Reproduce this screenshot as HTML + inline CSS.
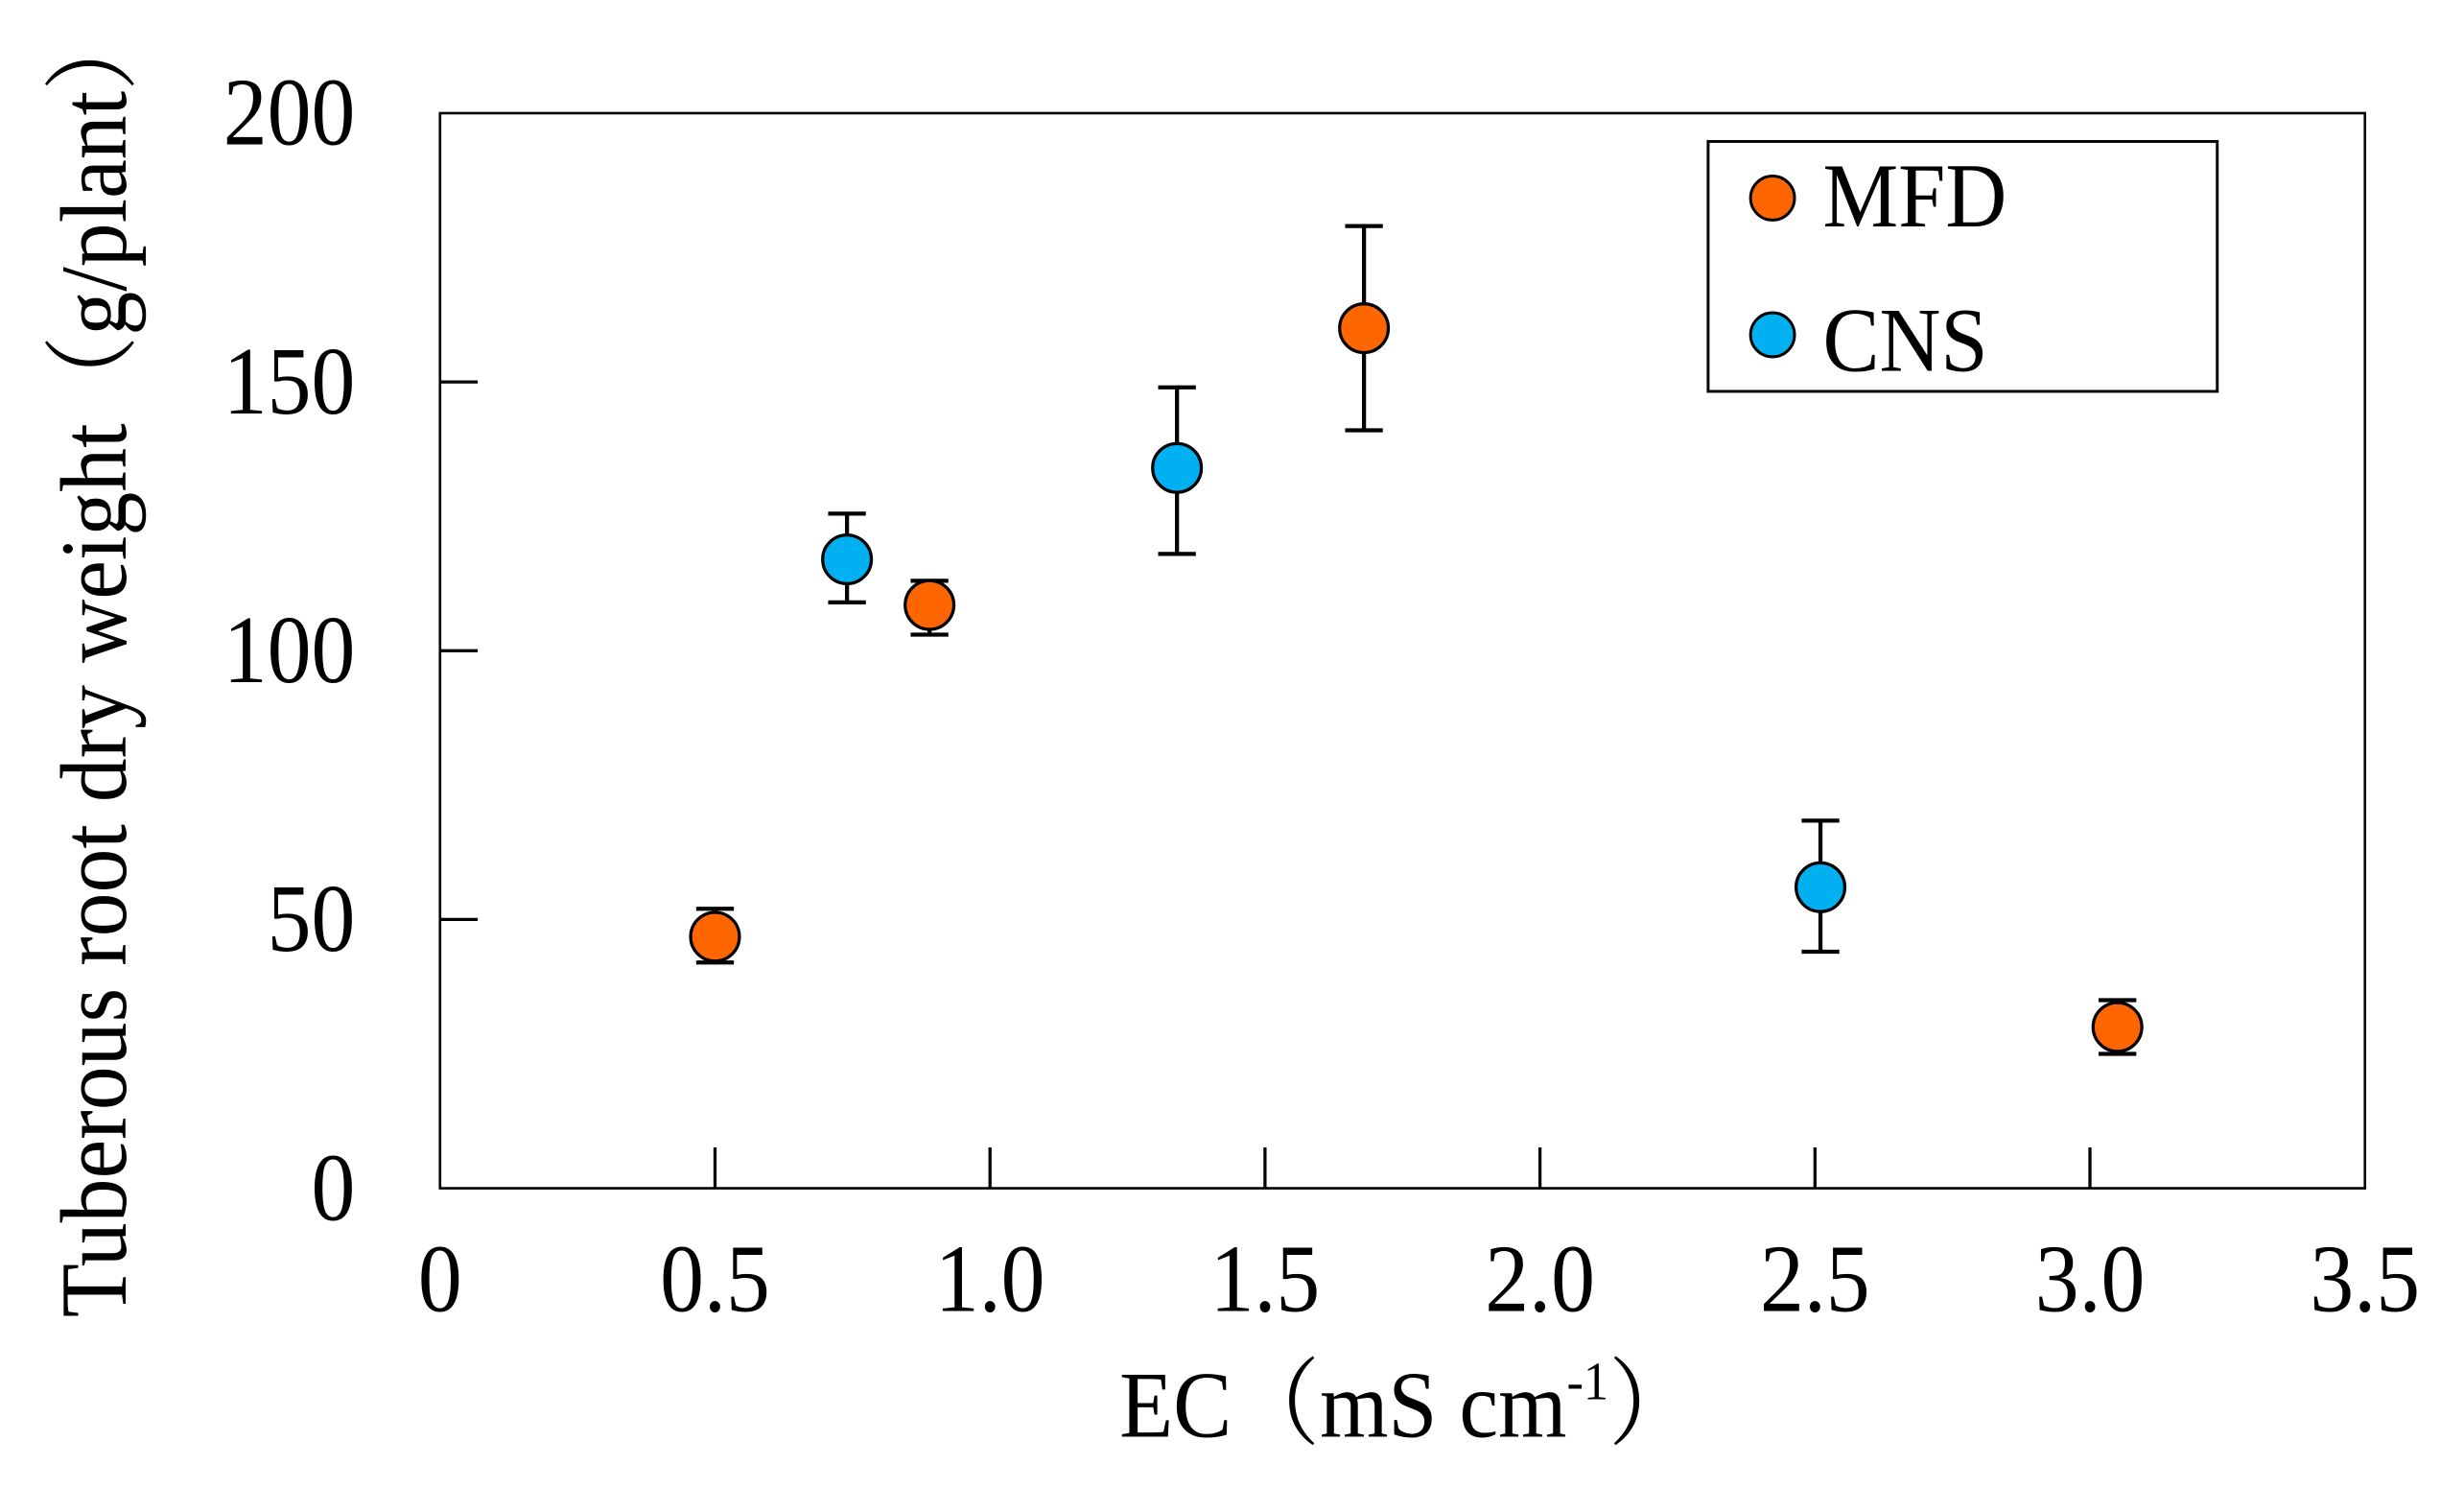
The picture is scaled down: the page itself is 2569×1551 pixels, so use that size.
<!DOCTYPE html>
<html><head><meta charset="utf-8"><style>html,body{margin:0;padding:0;background:#fff}svg{display:block}</style></head>
<body>
<svg id="chart" width="2569" height="1551" viewBox="0 0 1568 946.7" xmlns="http://www.w3.org/2000/svg" font-family="'Liberation Serif','Noto Serif CJK SC',serif">
<rect x="280" y="72" width="1225" height="684" fill="none" stroke="#000" stroke-width="1.6"/>
<g id="axes"></g>
<g id="marks"></g>
<text x="0" y="0" font-size="56" text-anchor="middle" transform="translate(80 420) rotate(-90) scale(1 1.08)">Tuberous root dry weight<tspan font-family="'Noto Serif CJK SC',serif">（</tspan>g/plant<tspan font-family="'Noto Serif CJK SC',serif">）</tspan></text>
<text x="0" y="0" font-size="56" text-anchor="middle" transform="translate(896 914) scale(1 1.08)">EC<tspan font-family="'Noto Serif CJK SC',serif">（</tspan>mS cm<tspan font-size="32" dy="-22">-1</tspan><tspan dy="22" font-family="'Noto Serif CJK SC',serif">）</tspan></text>
<g>
<rect x="1087" y="90" width="324" height="159" fill="#fff" stroke="#000" stroke-width="1.8"/>
<circle cx="1128" cy="126" r="14" fill="#FF6600" stroke="#000" stroke-width="1.8"/>
<text x="0" y="0" font-size="54" transform="translate(1160 144) scale(1 1.08)">MFD</text>
<circle cx="1128" cy="213" r="14" fill="#00B0F0" stroke="#000" stroke-width="1.8"/>
<text x="0" y="0" font-size="54" transform="translate(1160 236) scale(1 1.08)">CNS</text>
</g>
</svg>
<script>
const xTicks = [0, 0.5, 1.0, 1.5, 2.0, 2.5, 3.0, 3.5];
const xTickLabels = ["0", "0.5", "1.0", "1.5", "2.0", "2.5", "3.0", "3.5"];
const yTicks = [0, 50, 100, 150, 200];
const yTickLabels = ["0", "50", "100", "150", "200"];
const mfdX = [0.50, 0.89, 1.68, 3.05];
const mfdY = [46.8, 108.5, 160, 30];
const mfdHi = [52, 113, 179, 35];
const mfdLo = [42, 103, 141, 25];
const cnsX = [0.74, 1.34, 2.51];
const cnsY = [117, 134, 56];
const cnsHi = [125.5, 149, 68.4];
const cnsLo = [109, 118, 44];

const NS = "http://www.w3.org/2000/svg";
const X0 = 280, X1 = 1505, Y0 = 756, Y1 = 72;
function sx(v){ return X0 + (v - 0) / 3.5 * (X1 - X0); }
function sy(v){ return Y0 - (v - 0) / 200 * (Y0 - Y1); }
function mk(tag, attrs, parent){
  const e = document.createElementNS(NS, tag);
  for (const k in attrs) e.setAttribute(k, attrs[k]);
  parent.appendChild(e);
  return e;
}
const axes = document.getElementById('axes');
const marks = document.getElementById('marks');
xTicks.forEach((t, i) => {
  if (t > 0 && t < 3.5) {
    const l = mk('line', {x1: sx(t), x2: sx(t), y1: Y0, y2: Y0 - 26, stroke: '#000', 'stroke-width': 2}, axes);
    
    
  }
  const tx = mk('text', {x: 0, y: 0, 'font-size': 56, 'text-anchor': 'middle', transform: 'translate(' + sx(t) + ' 834) scale(1 1.1)'}, axes);
  tx.textContent = xTickLabels[i];
  
  
});
yTicks.forEach((t, i) => {
  if (t > 0 && t < 200) {
    const l = mk('line', {x1: X0, x2: X0 + 24, y1: sy(t), y2: sy(t), stroke: '#000', 'stroke-width': 2}, axes);
    
    
  }
  const tx = mk('text', {x: 0, y: 0, 'font-size': 56, 'text-anchor': 'end', transform: 'translate(226 ' + (sy(t) + 20) + ') scale(1 1.1)'}, axes);
  tx.textContent = yTickLabels[i];
  
  
});
function series(xs, ys, hi, lo, color, name){
  xs.forEach((x, i) => {
    const g = mk('g', {}, marks);
    
    
    const cx = sx(x);
    mk('line', {x1: cx, x2: cx, y1: sy(hi[i]), y2: sy(lo[i]), stroke: '#000', 'stroke-width': 2.6}, g);
    mk('line', {x1: cx - 12, x2: cx + 12, y1: sy(hi[i]), y2: sy(hi[i]), stroke: '#000', 'stroke-width': 2.6}, g);
    mk('line', {x1: cx - 12, x2: cx + 12, y1: sy(lo[i]), y2: sy(lo[i]), stroke: '#000', 'stroke-width': 2.6}, g);
    mk('circle', {cx: cx, cy: sy(ys[i]), r: 15.5, fill: color, stroke: '#000', 'stroke-width': 2}, g);
  });
}
series(cnsX, cnsY, cnsHi, cnsLo, '#00B0F0', 'cns');
series(mfdX, mfdY, mfdHi, mfdLo, '#FF6600', 'mfd');
</script>
</body></html>
